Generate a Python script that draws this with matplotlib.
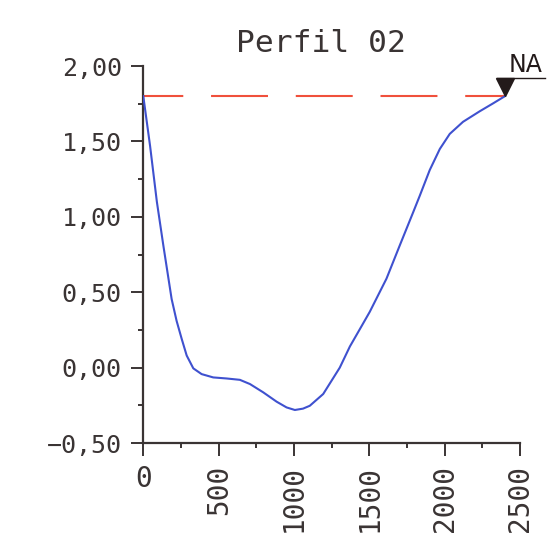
import matplotlib
matplotlib.use('Agg')
import matplotlib.pyplot as plt
from matplotlib.ticker import MultipleLocator, FuncFormatter
from matplotlib.transforms import offset_copy

# profile (distance in m, elevation in m)
distance = [0, 45, 90, 133, 188, 221, 255, 288, 332, 387, 464, 553,
            641, 708, 796, 885, 951, 1006, 1060, 1105, 1194, 1304, 1371,
            1440, 1503, 1614, 1702, 1791, 1835, 1901, 1968, 2034,
            2122, 2233, 2321, 2400]
elevation = [1.80, 1.47, 1.10, 0.81, 0.455, 0.31, 0.19, 0.08, -0.005,
             -0.043, -0.065, -0.072, -0.081, -0.109, -0.164, -0.226, -0.264,
             -0.281, -0.272, -0.253, -0.175, 0.0, 0.14, 0.26, 0.37, 0.59,
             0.81, 1.03, 1.14, 1.31, 1.45, 1.55, 1.63, 1.70, 1.752, 1.80]

na_start = 0
na_distance = 2400
na_level = 1.80

x_ticks = [0, 500, 1000, 1500, 2000, 2500]
y_ticks = [-0.50, 0.00, 0.50, 1.00, 1.50, 2.00]

ink = '#3a3434'
plt.rcParams['font.family'] = 'DejaVu Sans Mono'
plt.rcParams['lines.scale_dashes'] = False

fig = plt.figure(figsize=(5.55, 5.6), dpi=100)
ax = fig.add_axes([0.2582, 0.2089, 0.6787, 0.6732])

# water level (NA) and the terrain line
ax.plot([na_start, na_distance], [na_level, na_level], color='#f0503c',
        lw=1.5, linestyle=(12, (41, 20)), zorder=2)
ax.plot(distance, elevation, color='#3f51cf', lw=1.5, zorder=3,
        solid_joinstyle='round')

# NA symbol: triangle sitting on the level, underlined label
tri = offset_copy(ax.transData, fig=fig, x=0, y=9, units='dots')
ax.plot([na_distance], [na_level], marker='v', ms=13, color='#231a1a',
        transform=tri, clip_on=False, zorder=4)
under = offset_copy(ax.transData, fig=fig, x=0, y=18, units='dots')
ax.plot([na_distance - 55, na_distance + 265], [na_level, na_level],
        color='#231a1a', lw=1.0, transform=under, clip_on=False)
lab = offset_copy(ax.transData, fig=fig, x=4, y=19, units='dots')
ax.text(na_distance, na_level, 'NA', transform=lab, fontsize=17,
        family='DejaVu Sans', color='#231a1a', ha='left', va='bottom',
        clip_on=False)

ax.set_xlim(0, 2500)
ax.set_ylim(-0.5, 2.0)

for s in ['top', 'right']:
    ax.spines[s].set_visible(False)
for s in ['left', 'bottom']:
    ax.spines[s].set_color(ink)
    ax.spines[s].set_linewidth(1.6)

ax.set_yticks(y_ticks)
ax.yaxis.set_minor_locator(MultipleLocator(0.25))
ax.yaxis.set_major_formatter(
    FuncFormatter(lambda v, p: f'{v:.2f}'.replace('.', ',').replace('-', '\u2212')))
ax.set_xticks(x_ticks)
ax.xaxis.set_minor_locator(MultipleLocator(250))
ax.set_xticklabels([str(t) for t in x_ticks], rotation=90, ha='center', va='top')
ax.get_xticklabels()[0].set_rotation(0)

ax.tick_params(which='major', length=9, width=1.4, color=ink)
ax.tick_params(which='minor', length=3.8, width=1.4, color=ink)
ax.tick_params(axis='y', which='major', labelsize=18, labelcolor=ink, pad=6.5)
ax.tick_params(axis='x', which='major', labelsize=20, labelcolor=ink, pad=7)

fig.text(321 / 555, 1 - 43 / 560, 'Perfil 02', fontsize=22.5, color=ink,
         ha='center', va='center')

fig.savefig('out.png', dpi=100)
